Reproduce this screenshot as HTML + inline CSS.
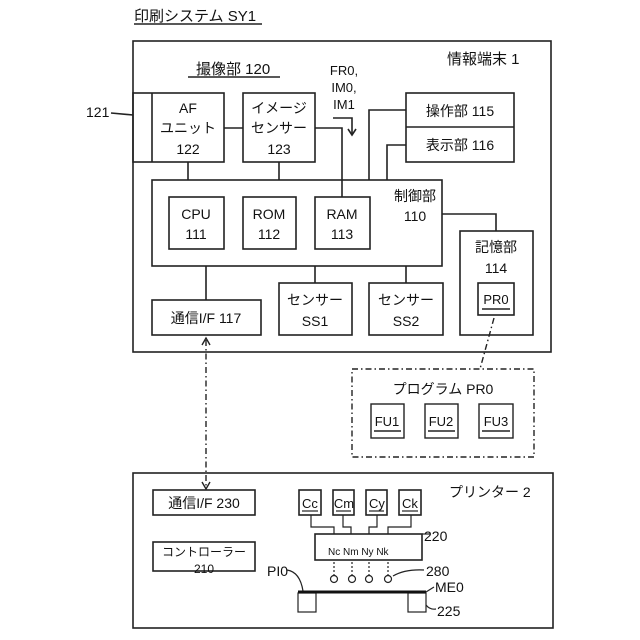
<!DOCTYPE html>
<html><head><meta charset="utf-8"><style>
html,body{margin:0;padding:0;background:#fff;}
svg{display:block;}
text{font-family:"Liberation Sans","Noto Sans CJK JP",sans-serif;fill:#111;}
</style></head><body>
<svg width="640" height="640" viewBox="0 0 640 640" xmlns="http://www.w3.org/2000/svg">
<g stroke="#222" stroke-width="1.6" fill="none">
<line x1="134" y1="24" x2="262" y2="24"/>
<rect x="133" y="41" width="418" height="311"/>
<line x1="188" y1="77" x2="280" y2="77"/>
<line x1="111" y1="113" x2="133" y2="115"/>
<rect x="133" y="93" width="91" height="69"/>
<line x1="152" y1="93" x2="152" y2="162"/>
<rect x="243" y="93" width="72" height="69"/>
<line x1="224" y1="128" x2="243" y2="128"/>
<polyline points="315,128 342,128 342,197"/>
<polyline points="333,118 352,118 352,134"/>
<polyline points="348,129 352,135 356,129"/>
<line x1="188" y1="162" x2="188" y2="180"/>
<line x1="279" y1="162" x2="279" y2="180"/>
<rect x="152" y="180" width="290" height="86"/>
<rect x="169" y="197" width="55" height="52"/>
<rect x="243" y="197" width="53" height="52"/>
<rect x="315" y="197" width="55" height="52"/>
<rect x="406" y="93" width="108" height="69"/>
<line x1="406" y1="127" x2="514" y2="127"/>
<polyline points="369,180 369,110 406,110"/>
<polyline points="387,180 387,145 406,145"/>
<polyline points="442,214 496,214 496,231"/>
<rect x="460" y="231" width="73" height="104"/>
<rect x="478" y="283" width="36" height="32"/>
<line x1="482" y1="309" x2="510" y2="309"/>
<rect x="152" y="300" width="109" height="35"/>
<line x1="206" y1="266" x2="206" y2="300"/>
<rect x="279" y="283" width="73" height="52"/>
<line x1="315" y1="266" x2="315" y2="283"/>
<rect x="369" y="283" width="74" height="52"/>
<line x1="406" y1="266" x2="406" y2="283"/>
</g>
<g stroke="#222" stroke-width="1.4" fill="none" stroke-dasharray="6,3,1.5,3">
<line x1="206" y1="340" x2="206" y2="487"/>
<line x1="494" y1="318" x2="480" y2="369"/>
<rect x="352" y="369" width="182" height="88"/>
</g>
<g stroke="#222" stroke-width="1.4" fill="none">
<polyline points="202,345 206,338 210,345"/>
<polyline points="202,482 206,489 210,482"/>
<rect x="371" y="404" width="33" height="34"/>
<rect x="425" y="404" width="33" height="34"/>
<rect x="479" y="404" width="34" height="34"/>
<line x1="374" y1="431" x2="401" y2="431"/>
<line x1="428" y1="431" x2="455" y2="431"/>
<line x1="482" y1="431" x2="510" y2="431"/>
</g>
<g stroke="#222" stroke-width="1.6" fill="none">
<rect x="133" y="473" width="420" height="155"/>
<rect x="153" y="490" width="102" height="25"/>
<rect x="153" y="542" width="102" height="29"/>
<rect x="299" y="490" width="22" height="25"/>
<rect x="333" y="490" width="21" height="25"/>
<rect x="366" y="490" width="21" height="25"/>
<rect x="399" y="490" width="22" height="25"/>
<rect x="315" y="534" width="107" height="26"/>
</g>
<g stroke="#222" stroke-width="1.2" fill="none">
<line x1="302" y1="511" x2="318" y2="511"/>
<line x1="336" y1="511" x2="351" y2="511"/>
<line x1="369" y1="511" x2="384" y2="511"/>
<line x1="402" y1="511" x2="418" y2="511"/>
<polyline points="311,515 311,527 334,527 334,534"/>
<polyline points="343,515 343,527 351,527 351,534"/>
<polyline points="377,515 377,527 369,527 369,534"/>
<polyline points="411,515 411,527 388,527 388,534"/>
<line x1="422" y1="534" x2="430" y2="534"/>
<g stroke-dasharray="2,2">
<line x1="334" y1="562" x2="334" y2="575"/>
<line x1="352" y1="562" x2="352" y2="575"/>
<line x1="369" y1="562" x2="369" y2="575"/>
<line x1="388" y1="562" x2="388" y2="575"/>
</g>
<circle cx="334" cy="579" r="3.5"/>
<circle cx="352" cy="579" r="3.5"/>
<circle cx="369" cy="579" r="3.5"/>
<circle cx="388" cy="579" r="3.5"/>
<path d="M393,576 Q405,569 424,570"/>
<path d="M287,570 Q300,572 303,591"/>
<rect x="298" y="593" width="18" height="19"/>
<rect x="408" y="593" width="18" height="19"/>
<path d="M426,592 L434,587"/>
<path d="M426,605 Q430,610 436,609"/>
</g>
<line x1="298" y1="592" x2="426" y2="592" stroke="#111" stroke-width="3"/>
<g font-size="15">
<text x="134" y="21">印刷システム SY1</text>
<text x="447" y="64">情報端末 1</text>
<text x="196" y="74">撮像部 120</text>
<text x="86" y="117" font-size="14">121</text>
</g>
<g font-size="14" text-anchor="middle">
<text x="344" y="75" font-size="13">FR0,</text>
<text x="344" y="92" font-size="13">IM0,</text>
<text x="344" y="109" font-size="13">IM1</text>
<text x="188" y="113">AF</text>
<text x="188" y="133">ユニット</text>
<text x="188" y="154">122</text>
<text x="279" y="113">イメージ</text>
<text x="279" y="133">センサー</text>
<text x="279" y="154">123</text>
<text x="460" y="116">操作部 115</text>
<text x="460" y="150">表示部 116</text>
<text x="415" y="201">制御部</text>
<text x="415" y="221">110</text>
<text x="196" y="219">CPU</text>
<text x="196" y="239">111</text>
<text x="269" y="219">ROM</text>
<text x="269" y="239">112</text>
<text x="342" y="219">RAM</text>
<text x="342" y="239">113</text>
<text x="496" y="252">記憶部</text>
<text x="496" y="273">114</text>
<text x="496" y="304" font-size="13">PR0</text>
<text x="206" y="323">通信I/F 117</text>
<text x="315" y="305">センサー</text>
<text x="315" y="326">SS1</text>
<text x="406" y="305">センサー</text>
<text x="406" y="326">SS2</text>
<text x="443" y="394">プログラム PR0</text>
<text x="387" y="426" font-size="13">FU1</text>
<text x="441" y="426" font-size="13">FU2</text>
<text x="496" y="426" font-size="13">FU3</text>
<text x="204" y="508">通信I/F 230</text>
<text x="204" y="556" font-size="12">コントローラー</text>
<text x="204" y="573" font-size="12">210</text>
<text x="310" y="508" font-size="13">Cc</text>
<text x="344" y="508" font-size="13">Cm</text>
<text x="377" y="508" font-size="13">Cy</text>
<text x="410" y="508" font-size="13">Ck</text>
</g>
<g font-size="14">
<text x="449" y="497">プリンター 2</text>
<text x="424" y="541">220</text>
<text x="426" y="576">280</text>
<text x="267" y="576">PI0</text>
<text x="435" y="592">ME0</text>
<text x="437" y="616">225</text>
</g>
<text x="328" y="555" font-size="10">Nc Nm Ny Nk</text>
</svg>
</body></html>
